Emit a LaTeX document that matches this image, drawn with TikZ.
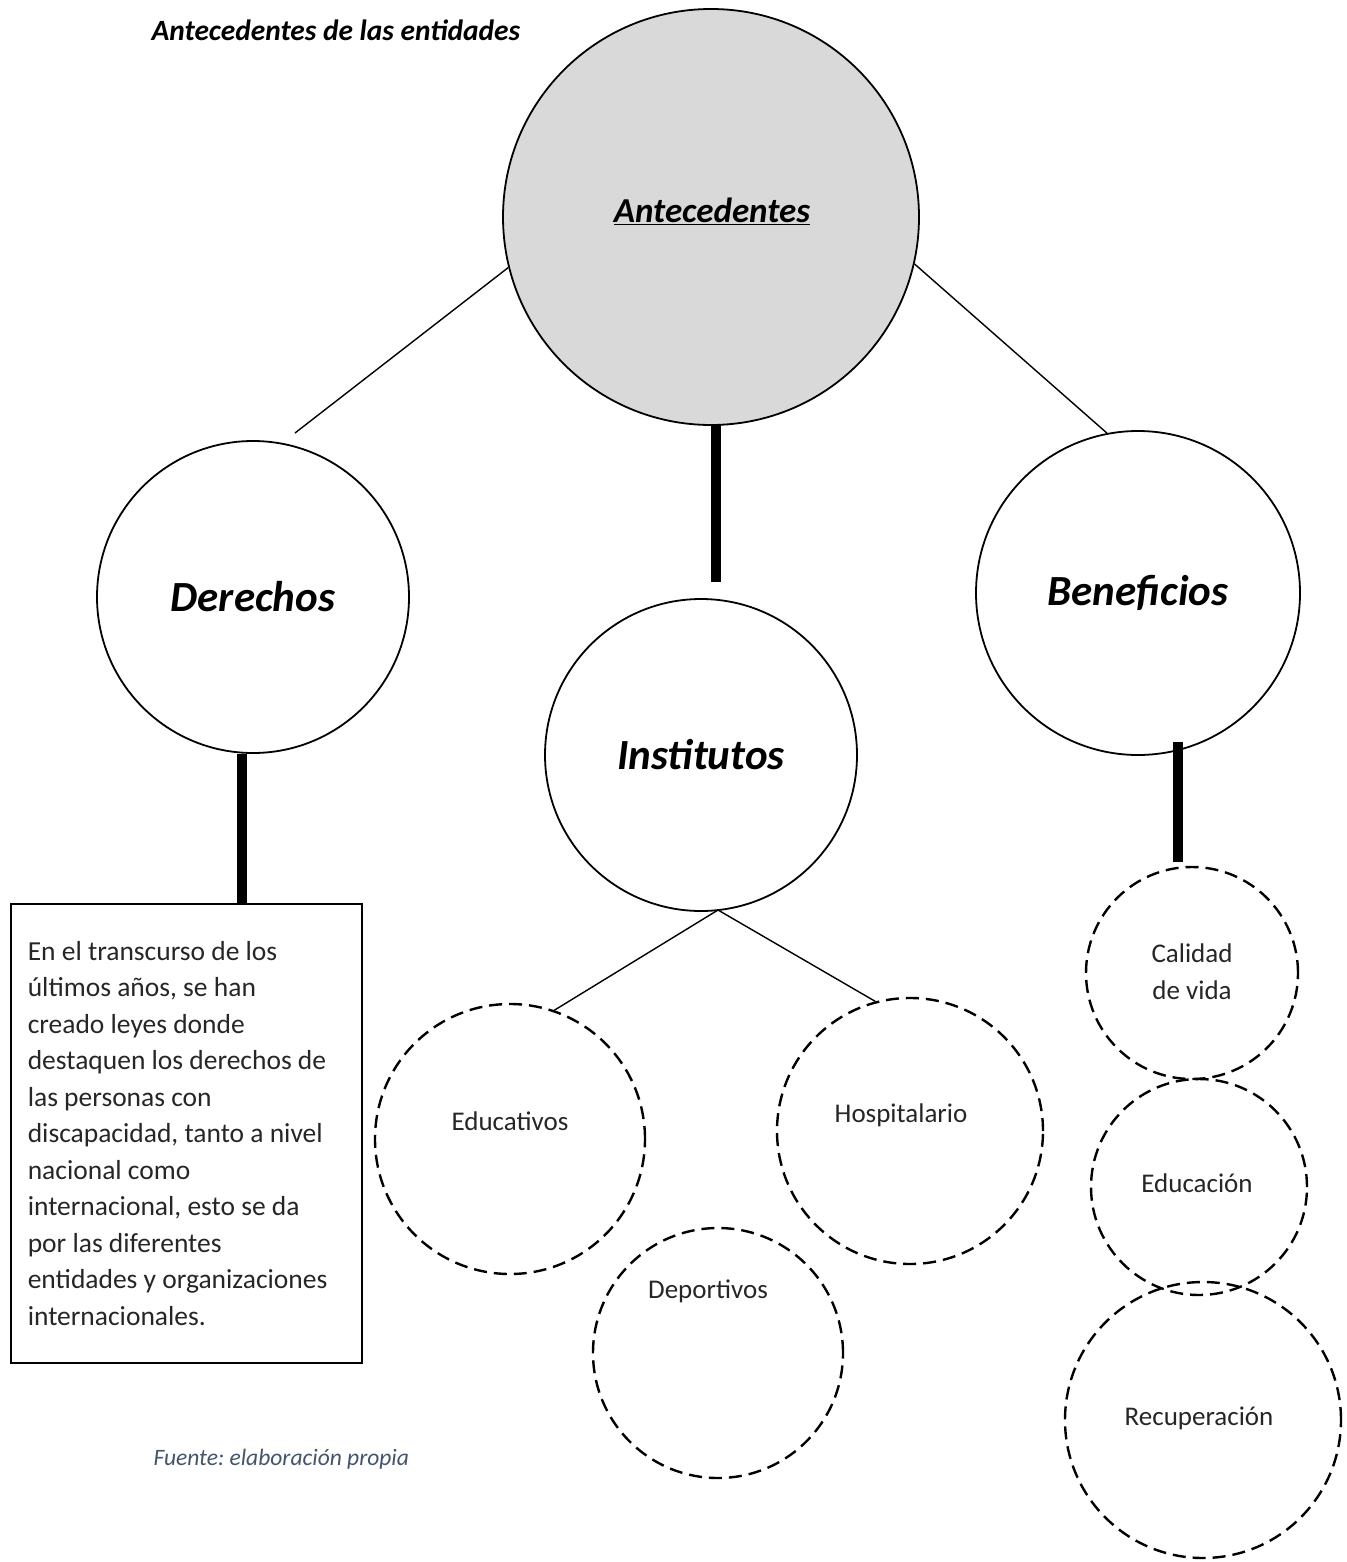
\documentclass[tikz,border=0pt]{standalone}
\usepackage{fontspec}
\setmainfont{Carlito}
\usetikzlibrary{calc}
\definecolor{fuente}{HTML}{44546A}
\frenchspacing

\begin{document}
\begin{tikzpicture}[x=1pt, y=-1pt,
    solidc/.style={circle, draw, line width=1.8pt, inner sep=0pt, font=\fontsize{43}{50}\selectfont\bfseries\itshape},
    dashc/.style={circle, draw, line width=2.4pt, dash pattern=on 13pt off 7pt, inner sep=0pt, text=black!85},
    lbl/.style={font=\fontsize{27}{37}\selectfont, text=black!85, align=center},
    thin link/.style={line width=1.4pt},
    thick link/.style={line width=10pt}]
    \useasboundingbox (0,0) rectangle (1346,1562);

    % 1. Title
    \node[anchor=west, font=\fontsize{29.4}{34}\selectfont\bfseries\itshape] (title) at (148,30) {Antecedentes de las entidades};

    % 2. Main circle
    \node[circle, draw, line width=1.8pt, fill={rgb,255:red,217;green,217;blue,217}, minimum size=416pt, inner sep=0pt] (ant) at (711,217) {};
    \node[font=\fontsize{35}{40}\selectfont\bfseries\itshape] (antlbl) at (712,211) {\underline{Antecedentes}};

    % 3. Second level circles
    \node[solidc, minimum size=312pt] (der) at (253,597) {Derechos};
    \node[solidc, minimum size=312pt] (ins) at (701,755) {Institutos};
    \node[solidc, minimum size=324pt] (ben) at (1138,593) {Beneficios};

    % 4. Text box under Derechos
    \node[draw, line width=1.6pt, minimum width=351pt, minimum height=459pt, anchor=north west,
          inner xsep=17pt, text width=317pt, align=flush left, text=black!85, font=\fontsize{27.5}{36.5}\selectfont] (txt) at (10,903)
        {En el transcurso de los\\ últimos años, se han\\ creado leyes donde\\ destaquen los derechos de\\
         las personas con\\ discapacidad, tanto a nivel\\ nacional como\\ internacional, esto se da\\
         por las diferentes\\ entidades y organizaciones\\ internacionales.};

    % 5. Dashed circles (Institutos)
    \node[dashc, minimum size=270pt] (edu) at (510,1139) {};
    \node[dashc, minimum size=266pt] (hos) at (910,1131) {};
    \node[dashc, minimum size=250pt] (dep) at (718,1353) {};
    \node[lbl] (edulbl) at ($(edu)+(0,-18)$) {Educativos};
    \node[lbl] (hoslbl) at ($(hos)+(-9,-16)$) {Hospitalario};
    \node[lbl] (deplbl) at ($(dep)+(-10,-62)$) {Deportivos};

    % 6. Dashed circles (Beneficios)
    \node[dashc, minimum size=212pt] (cal) at (1192,973) {};
    \node[dashc, minimum size=216pt] (educ) at (1199,1187) {};
    \node[dashc, minimum size=276pt] (rec) at (1203,1420) {};
    \node[lbl] (callbl) at ($(cal)+(0,-1)$) {Calidad\\ de vida};
    \node[lbl] (educlbl) at ($(educ)+(-2,-4)$) {Educación};
    \node[lbl] (reclbl) at ($(rec)+(-4,-2)$) {Recuperación};

    % 7. Connectors
    \coordinate (derTop) at (295,433);
    \coordinate (antBot) at (716,425);
    \coordinate (insTop) at (716,582);
    \draw[thin link] (ant.194) -- (derTop);
    \draw[thin link] (ant.-13) -- (ben.101);
    \draw[thick link] (antBot) -- (insTop);
    \draw[thick link] (der.266) -- (der.266 |- txt.north);
    \coordinate (benBot) at (1178,742);
    \coordinate (calTop) at (1178,862);
    \draw[thick link] (benBot) -- (calTop);
    \coordinate (insBot) at (718,910);
    \draw[thin link] (insBot) -- (edu.71);
    \draw[thin link] (insBot) -- (hos.105);

    % 8. Source
    \node[anchor=west, text=fuente, font=\fontsize{23.5}{28}\selectfont\itshape] (src) at (150,1459) {Fuente: elaboración propia};

\end{tikzpicture}
\end{document}
